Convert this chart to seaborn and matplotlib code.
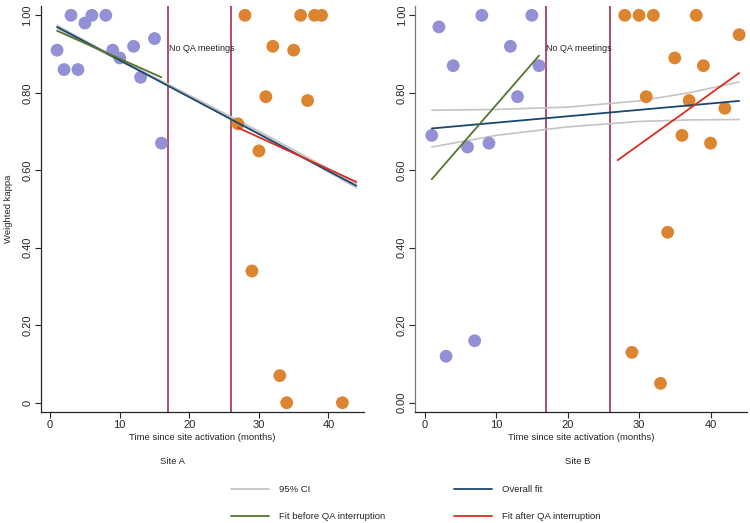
import matplotlib
matplotlib.use("Agg")
import matplotlib.pyplot as plt
import seaborn as sns
import pandas as pd
from matplotlib.lines import Line2D

# Site A - puntos antes / después de la interrupción
a_before_x = [1, 2, 3, 4, 5, 6, 8, 9, 10, 12, 13, 15, 16]
a_before_y = [0.91, 0.86, 1.00, 0.86, 0.98, 1.00, 1.00, 0.91, 0.89, 0.92, 0.84, 0.94, 0.67]
a_after_x = [27, 28, 29, 30, 31, 32, 33, 34, 35, 36, 37, 38, 39, 42]
a_after_y = [0.72, 1.00, 0.34, 0.65, 0.79, 0.92, 0.07, 0.00, 0.91, 1.00, 0.78, 1.00, 1.00, 0.00]

# Site B
b_before_x = [1, 2, 3, 4, 6, 7, 8, 9, 12, 13, 15, 16]
b_before_y = [0.69, 0.97, 0.12, 0.87, 0.66, 0.16, 1.00, 0.67, 0.92, 0.79, 1.00, 0.87]
b_after_x = [28, 29, 30, 31, 32, 33, 34, 35, 36, 37, 38, 39, 40, 42, 44]
b_after_y = [1.00, 0.13, 1.00, 0.79, 1.00, 0.05, 0.44, 0.89, 0.69, 0.78, 1.00, 0.87, 0.67, 0.76, 0.95]

# Rectas ajustadas
a_overall_x, a_overall_y = [1, 44], [0.970, 0.560]
a_pre_x, a_pre_y = [1, 16], [0.960, 0.840]
a_post_x, a_post_y = [27, 44], [0.710, 0.570]
a_ci_x = [1, 10, 20, 30, 44]
a_ci_hi = [0.974, 0.886, 0.794, 0.701, 0.565]
a_ci_lo = [0.966, 0.882, 0.792, 0.697, 0.555]

b_overall_x, b_overall_y = [1, 44], [0.708, 0.779]
b_pre_x, b_pre_y = [1, 16], [0.577, 0.896]
b_post_x, b_post_y = [27, 44], [0.626, 0.851]
b_ci_x = [1, 10, 20, 30, 37, 44]
b_ci_hi = [0.755, 0.757, 0.763, 0.779, 0.800, 0.828]
b_ci_lo = [0.660, 0.690, 0.712, 0.726, 0.730, 0.731]

qa_stop, qa_restart = 17, 26

c_pre_pts = "#9390d6"
c_post_pts = "#dc8430"
c_overall = "#1a476f"
c_pre = "#55752f"
c_post = "#d62d20"
c_ci = "#c4c4c4"
c_vline = "#a3304f"

sns.set_style("ticks")
plt.rcParams["font.family"] = ["Liberation Sans", "DejaVu Sans"]

fig = plt.figure(figsize=(7.5, 5.23), dpi=100)
ax_a = fig.add_axes([0.0543, 0.2122, 0.4310, 0.7763])
ax_b = fig.add_axes([0.5533, 0.2122, 0.4427, 0.7763])

paneles = [
    (ax_a, a_before_x, a_before_y, a_after_x, a_after_y, a_overall_x, a_overall_y,
     a_pre_x, a_pre_y, a_post_x, a_post_y, a_ci_x, a_ci_hi, a_ci_lo),
    (ax_b, b_before_x, b_before_y, b_after_x, b_after_y, b_overall_x, b_overall_y,
     b_pre_x, b_pre_y, b_post_x, b_post_y, b_ci_x, b_ci_hi, b_ci_lo),
]

for (ax, bx, by, px, py, ox, oy, fx, fy, rx, ry, cx, chi, clo) in paneles:
    ax.axvline(qa_stop, color=c_vline, lw=1.2, zorder=1)
    ax.axvline(qa_restart, color=c_vline, lw=1.2, zorder=1)
    sns.scatterplot(x=bx, y=by, ax=ax, color=c_pre_pts, s=85, edgecolor="none", zorder=3)
    sns.scatterplot(x=px, y=py, ax=ax, color=c_post_pts, s=85, edgecolor="none", zorder=3)
    sns.lineplot(x=cx, y=chi, ax=ax, color=c_ci, lw=1.2, zorder=2)
    sns.lineplot(x=cx, y=clo, ax=ax, color=c_ci, lw=1.2, zorder=2)
    sns.lineplot(x=ox, y=oy, ax=ax, color=c_overall, lw=1.3, zorder=4)
    sns.lineplot(x=fx, y=fy, ax=ax, color=c_pre, lw=1.3, zorder=4)
    sns.lineplot(x=rx, y=ry, ax=ax, color=c_post, lw=1.3, zorder=4)
    ax.text(qa_stop + 0.05, 0.914, "No QA meetings", fontsize=6.5, va="center", ha="left")

    ax.set_xlim(-1.35, 45.1)
    ax.set_ylim(-0.024, 1.024)
    ax.set_xticks([0, 10, 20, 30, 40])
    ax.set_yticks([0, 0.2, 0.4, 0.6, 0.8, 1.0])
    ax.tick_params(axis="both", labelsize=8, length=4, width=0.8, direction="out", pad=2)
    ax.tick_params(axis="y", labelrotation=90)
    ax.set_xlabel("Time since site activation (months)", fontsize=6.8, labelpad=2)
    ax.set_ylabel("")
    sns.despine(ax=ax)
    ax.spines["bottom"].set_linewidth(0.9)
    ax.spines["left"].set_linewidth(0.9)

ax_a.set_yticklabels(["0", "0.20", "0.40", "0.60", "0.80", "1.00"])
ax_b.set_yticklabels(["0.00", "0.20", "0.40", "0.60", "0.80", "1.00"])
for ax in (ax_a, ax_b):
    for lab in ax.get_yticklabels():
        lab.set_va("center")
ax_b.spines["left"].set_color("#777777")
ax_a.set_ylabel("Weighted kappa", fontsize=6.8, labelpad=2)
ax_a.yaxis.set_label_coords(-0.085, 0.5)

fig.text(173 / 750, 1 - 462 / 523, "Site A", fontsize=6.8, ha="center", va="center")
fig.text(578 / 750, 1 - 462 / 523, "Site B", fontsize=6.8, ha="center", va="center")

handles = [
    Line2D([], [], color=c_ci, lw=1.3),
    Line2D([], [], color=c_pre, lw=1.3),
    Line2D([], [], color=c_overall, lw=1.3),
    Line2D([], [], color=c_post, lw=1.3),
]
labels = ["95% CI", "Fit before QA interruption", "Overall fit", "Fit after QA interruption"]
fig.legend(handles, labels, ncol=2, loc="center left", bbox_to_anchor=(226 / 750, 1 - 503 / 523),
           frameon=False, fontsize=6.8, handlelength=4.0, handletextpad=1.1,
           columnspacing=7.3, labelspacing=1.9, borderpad=0)

fig.savefig("out.png", dpi=100)
